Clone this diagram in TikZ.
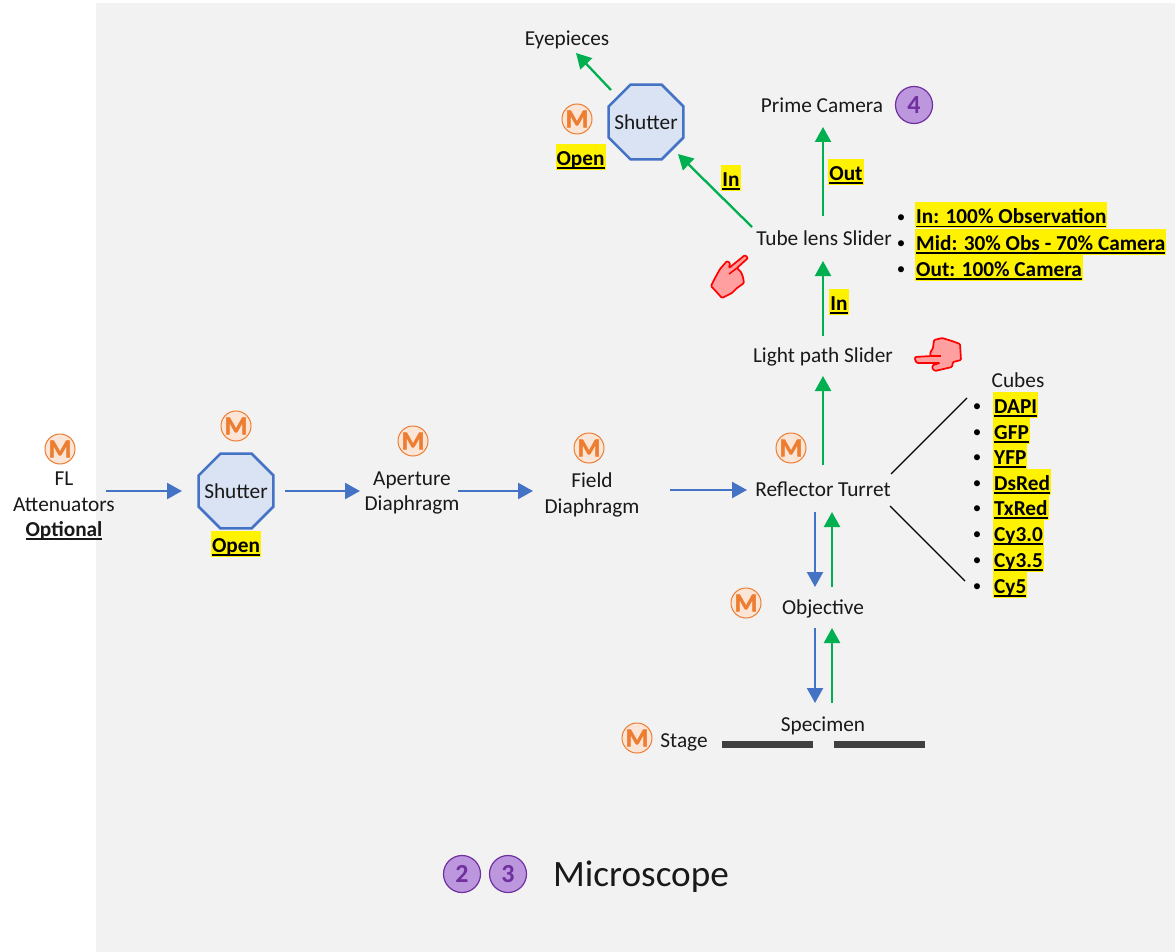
\documentclass[tikz,border=0pt]{standalone}
\usepackage{fontspec}
\setmainfont{Carlito}
\newfontfamily\heavyfont[FakeBold=1.5]{Carlito}
\usetikzlibrary{shapes.geometric,arrows.meta}
\definecolor{bgrey}{HTML}{F2F2F2}
\definecolor{blueline}{HTML}{4472C4}
\definecolor{bluefill}{HTML}{DAE3F3}
\definecolor{greenline}{HTML}{00B050}
\definecolor{orangeline}{HTML}{ED7D31}
\definecolor{orangefill}{HTML}{FBE5D6}
\definecolor{purpleline}{HTML}{7030A0}
\definecolor{purplefill}{HTML}{BD97DE}
\definecolor{barcol}{HTML}{404040}
\definecolor{handfill}{HTML}{FF9F9F}
\newcommand\hlul[1]{\setbox0\hbox{#1}\rlap{\rule[-3.2pt]{\wd0}{1.5pt}}\box0}
\newcommand\zerowd[1]{\makebox[0pt]{#1}}
\tikzset{
  x=1pt,y=-1pt,
  every node/.style={font=\fontsize{21.3}{25.5}\selectfont,inner sep=0pt,text=black!90},
  lbl/.style={align=center},
  word/.style={text height=15pt,text depth=0pt},
  mot/.style={circle,draw=orangeline,line width=1pt,fill=orangefill,minimum size=30pt,text=orangeline,font=\fontsize{26}{26}\heavyfont\bfseries},
  num/.style={circle,draw=purpleline,line width=1.2pt,fill=purplefill,minimum size=37pt,text=purpleline,font=\fontsize{26}{26}\selectfont\bfseries},
  octa/.style={regular polygon,regular polygon sides=8,draw=blueline,line width=2.6pt,fill=bluefill,minimum size=81pt},
  hl/.style={fill=yellow,text=black,inner xsep=1pt,text height=21.5pt,text depth=4.5pt,font=\fontsize{21.3}{24}\selectfont\bfseries},
  bul/.style={text=black,yshift=-2.5pt,font=\fontsize{17}{17}\selectfont},
  bluearrow/.style={draw=blueline,line width=2.3pt,-{Triangle[length=15pt,width=16pt]}},
  greenarrow/.style={draw=greenline,line width=2.3pt,-{Triangle[length=15pt,width=16pt]}},
  plainline/.style={draw=black,line width=1.1pt},
  bar/.style={fill=barcol,minimum width=91pt,minimum height=7pt},
  handshape/.style={draw=red,line width=1.7pt,fill=handfill,rounded corners=1pt,line join=round},
}
\begin{document}
\begin{tikzpicture}
\useasboundingbox (0,0) rectangle (1175,952);
\fill[white] (0,0) rectangle (1175,952);
\fill[bgrey] (96,3) rectangle (1175,952);

% motor badges
\node[mot] (m1) at (60,449) {M};
\node[mot] (m2) at (236,426) {M};
\node[mot] (m3) at (413,441) {M};
\node[mot] (m4) at (589,448) {M};
\node[mot] (m5) at (791,448) {M};
\node[mot] (m6) at (746,603) {M};
\node[mot] (m7) at (637,738) {M};
\node[mot] (m8) at (577,119) {M};

% main labels
\node[lbl] (att) at (64,506) {FL\\Attenuators\\[-0.5pt]\textbf{\hlul{Optional}}};
\node[octa] (sh1) at (236,491) {\zerowd{Shutter}};
\node[octa] (sh2) at (646,122) {\zerowd{Shutter}};
\node[lbl] (ap) at (412,493) {Aperture\\Diaphragm};
\node[lbl] (field) at (592,495) {Field\\Diaphragm};
\node[word] (refl) at (823,489) {Reflector Turret};
\node[word] (obj) at (823,607) {Objective};
\node[word] (spec) at (823,724) {Specimen};
\node[word] (stage) at (684,740) {Stage};
\node[word] (light) at (823,355) {Light path Slider};
\node[word] (tube) at (824,238) {Tube lens Slider};
\node[word] (prime) at (822,105) {Prime Camera};
\node[word] (eye) at (567,38) {Eyepieces};
\node[font=\fontsize{37.2}{37}\selectfont] (title) at (641,877) {Microscope};

% state tags
\node[hl] (open1) at (236,544) {\hlul{Open}};
\node[hl] (open2) at (580.5,157) {\hlul{Open}};
\node[hl] (tagin1) at (731,178) {\hlul{In}};
\node[hl] (tagout) at (846,172) {\hlul{Out}};
\node[hl] (tagin2) at (839,302) {\hlul{In}};

% purple badges
\node[num] (n4) at (914,105) {4};
\node[num] (n2) at (462,874) {2};
\node[num] (n3) at (508,874) {3};

% slider list
\node[bul] (sb1) at (901,216) {•};
\node[bul] (sb2) at (901,242) {•};
\node[bul] (sb3) at (901,268) {•};
\node[hl,anchor=west] (s1) at (915,215.5) {\hlul{In: 100\% Observation}};
\node[hl,anchor=west] (s2) at (915,242) {\hlul{Mid: 30\% Obs - 70\% Camera}};
\node[hl,anchor=west] (s3) at (915,268) {\hlul{Out: 100\% Camera}};

% cubes list
\node[word] (cubes) at (1018,380) {Cubes};
\foreach \i/\yy/\t in {1/405/DAPI,2/431/GFP,3/456/YFP,4/482/DsRed,5/507/TxRed,6/533/Cy3.0,7/559/Cy3.5,8/585/Cy5}{
  \node[bul] (cb\i) at (977,\yy) {•};
  \node[hl,anchor=west] (c\i) at (993,\yy) {\hlul{\t}};
}

% stage bars
\node[bar] (bar1) at (767.5,744) {};
\node[bar] (bar2) at (879.5,744) {};

% connectors: blue path
\draw[bluearrow] ([shift={(42,-15)}]att.center) -- ([shift={(-54,0)}]sh1.center);
\draw[bluearrow] ([shift={(49,0)}]sh1.center) -- ([shift={(-52,-2)}]ap.center);
\draw[bluearrow] ([shift={(46,-2)}]ap.center) -- ([shift={(-59,-4)}]field.center);
\draw[bluearrow] ([shift={(78,-5)}]field.center) -- ([shift={(-76,1)}]refl.center);
\draw[bluearrow] ([shift={(-8,23)}]refl.center) -- ([shift={(-8,-20)}]obj.center);
\draw[bluearrow] ([shift={(-8,21)}]obj.center) -- ([shift={(-8,-21)}]spec.center);
% connectors: green path
\draw[greenarrow] ([shift={(9,-21)}]spec.center) -- ([shift={(9,21)}]obj.center);
\draw[greenarrow] ([shift={(9,-20)}]obj.center) -- ([shift={(9,23)}]refl.center);
\draw[greenarrow] ([shift={(0,-24)}]refl.center) -- ([shift={(0,21)}]light.center);
\draw[greenarrow] ([shift={(0,-19)}]light.center) -- ([shift={(-1,23)}]tube.center);
\draw[greenarrow] ([shift={(-1,-22)}]tube.center) -- ([shift={(1,22)}]prime.center);
\draw[greenarrow] ([shift={(-72,-11)}]tube.center) -- ([shift={(32,32)}]sh2.center);
\draw[greenarrow] ([shift={(-35,-32)}]sh2.center) -- ([shift={(9,15)}]eye.center);
% turret to cube list
\draw[plainline] ([shift={(68,-15)}]refl.center) -- ([shift={(-10,-9.5)}]cb1.center);
\draw[plainline] ([shift={(67,17)}]refl.center) -- ([shift={(-12,-6.5)}]cb8.center);

% hands
\path[handshape] (745,255) -- (748,258) -- (737,268) -- (741,272) -- (743,277) -- (744,283) -- (737,288) -- (732,293) -- (722,298) -- (711,286) -- (715,278) -- (720,269) -- (727,261) -- (730,263) -- (729,268) -- cycle;
\draw[red,line width=1.5pt] (729,274) -- (737,268);
\path[handshape] (915,357) -- (931,356) -- (930,353) -- (933,348) -- (934,340) -- (942,338) -- (952,341) -- (960,344) -- (961,360) -- (953,362) -- (952,367) -- (935,371) -- (932,368) -- (933,365) -- (940,363) -- (917,363) -- (915,360) -- cycle;
\draw[red,line width=1.5pt] (931,356) -- (941,356);
\end{tikzpicture}
\end{document}
